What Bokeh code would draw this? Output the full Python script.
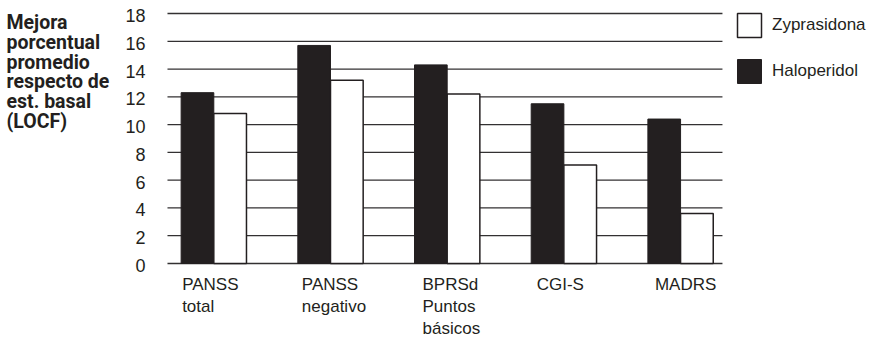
from bokeh.plotting import figure
from bokeh.models import Range1d, Label, Legend, LegendItem, ColumnDataSource
from bokeh.transform import dodge
from bokeh.core.properties import value
from bokeh.embed import file_html
from bokeh.resources import INLINE

# --- data -------------------------------------------------------------
categories = [["PANSS", "total"],
              ["PANSS", "negativo"],
              ["BPRSd", "Puntos", "básicos"],
              ["CGI-S"],
              ["MADRS"]]
haloperidol = [12.3, 15.7, 14.3, 11.5, 10.4]
zyprasidona = [10.8, 13.2, 12.2, 7.1, 3.6]
y_ticks = [0, 2, 4, 6, 8, 10, 12, 14, 16, 18]
y_title = ["Mejora", "porcentual", "promedio", "respecto de", "est. basal", "(LOCF)"]
series_names = ["Zyprasidona", "Haloperidol"]

# --- style / layout ---------------------------------------------------
INK = "#231f20"
GRID = "#333132"
FONT = "Liberation Sans"
TITLE_FONT = "Roboto"
BAR_W = 0.28
X_LEFT, X_RIGHT = -0.397, 4.359      # extent of the horizontal rules (data units)
LABEL_NUDGE = [1, 4, 8, 5.5, 7]      # px shift of each category label from its bar's left edge

idx = list(range(len(categories)))
src = ColumnDataSource(dict(x=idx, halo=haloperidol, zypr=zyprasidona))

# the plotting frame covers the whole canvas; ranges place the chart inside it
p = figure(width=874, height=338, output_backend="svg", toolbar_location=None,
           x_range=Range1d(-1.828, 5.662), y_range=Range1d(-5.4, 18.936),
           min_border=0)
p.outline_line_color = None
p.background_fill_color = "white"
p.border_fill_color = "white"
p.grid.visible = False
p.axis.visible = False

# horizontal rules at every tick
p.segment(x0=X_LEFT, x1=X_RIGHT, y0=y_ticks, y1=y_ticks,
          line_color=GRID, line_width=1.3)

# tick numbers
p.text(x=X_LEFT, y=y_ticks, text=[str(t) for t in y_ticks], x_offset=-22, y_offset=2,
       text_align="right", text_baseline="middle",
       text_font=value(FONT), text_font_size="18px", text_color=INK)

# paired bars
halo_r = p.vbar(x=dodge("x", -BAR_W / 2, range=p.x_range), top="halo", width=BAR_W,
                source=src, fill_color=INK, line_color=INK, line_width=1)
zypr_r = p.vbar(x=dodge("x", BAR_W / 2, range=p.x_range), top="zypr", width=BAR_W,
                source=src, fill_color="white", line_color=INK, line_width=1.5)

# legend at the right of the bars
legend = Legend(items=[LegendItem(label=series_names[0], renderers=[zypr_r]),
                       LegendItem(label=series_names[1], renderers=[halo_r])],
                location=(734, 252), orientation="vertical",
                glyph_width=30, glyph_height=30, label_height=30,
                spacing=16, padding=0, margin=0, label_standoff=8,
                border_line_color=None, background_fill_alpha=0,
                label_text_font=FONT, label_text_font_size="17px",
                label_text_color=INK, label_text_baseline="middle")
p.add_layout(legend)

# category labels under each pair, left aligned with the pair
for i, lines in enumerate(categories):
    for k, line in enumerate(lines):
        p.add_layout(Label(x=i - BAR_W, y=0, x_offset=LABEL_NUDGE[i], y_offset=-(20.5 + 22 * k),
                           text=line, text_align="left", text_baseline="alphabetic",
                           text_font=FONT, text_font_size="17px", text_color=INK))

# bold multi-line axis title in the top-left corner
for k, line in enumerate(y_title):
    p.add_layout(Label(x=X_LEFT, y=18, x_offset=-161, y_offset=-(9 + 19.8 * k),
                       text=line, text_align="left", text_baseline="alphabetic",
                       text_font=TITLE_FONT, text_font_style="bold", text_font_size="19.5px",
                       text_color=INK))

open("out.html", "w").write(file_html(p, INLINE))
